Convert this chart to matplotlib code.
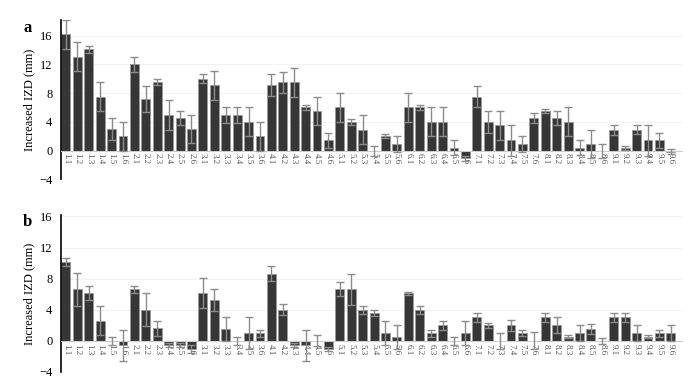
import numpy as np
import matplotlib
matplotlib.use("Agg")
import matplotlib.pyplot as plt

labels = [f"{g}.{k}" for g in range(1, 10) for k in range(1, 7)]

izd_a = [16.2, 13.1, 14.1, 7.5, 3.0, 2.0,
         12.0, 7.2, 9.5, 4.9, 4.5, 3.0,
         10.0, 9.1, 4.9, 4.9, 4.0, 2.0,
         9.1, 9.5, 9.5, 6.0, 5.5, 1.4,
         6.0, 4.0, 2.9, -0.1, 2.0, 0.9,
         6.0, 6.0, 4.0, 4.0, 0.4, -1.1,
         7.5, 4.0, 3.5, 1.4, 0.9, 4.5,
         5.5, 4.5, 4.0, 0.4, 0.9, -0.1,
         2.9, 0.4, 2.9, 1.4, 1.4, -0.2]
err_a = [2.0, 2.0, 0.5, 2.0, 1.5, 2.0,
         1.1, 1.8, 0.4, 2.1, 1.0, 1.9,
         0.6, 2.0, 1.1, 1.1, 2.0, 2.0,
         1.5, 1.5, 2.0, 0.4, 2.0, 1.0,
         2.0, 0.4, 2.0, 0.7, 0.3, 1.1,
         2.0, 0.4, 2.0, 2.0, 1.0, 0.3,
         1.5, 1.5, 2.0, 2.1, 1.1, 0.7,
         0.3, 1.0, 2.0, 1.0, 2.0, 1.0,
         0.7, 0.3, 0.6, 2.1, 1.0, 0.35]

izd_b = [10.1, 6.6, 6.15, 2.6, -0.05, -0.55,
         6.6, 4.0, 1.6, -0.55, -0.55, -1.05,
         6.15, 5.2, 1.5, -0.05, 1.0, 1.0,
         8.65, 4.0, -0.55, -0.55, 0.0, -1.05,
         6.6, 6.6, 4.0, 3.6, 1.0, 0.5,
         6.1, 4.0, 1.0, 2.0, 0.0, 1.0,
         3.0, 2.0, 0.0, 2.0, 1.0, 0.0,
         3.0, 2.0, 0.5, 1.0, 1.5, 0.0,
         3.0, 3.0, 1.0, 0.5, 1.0, 1.0]
err_b = [0.5, 2.1, 0.9, 1.9, 0.5, 2.0,
         0.5, 2.1, 1.0, 0.3, 0.3, 0.5,
         1.9, 1.4, 1.5, 0.5, 2.0, 0.45,
         1.0, 0.7, 0.3, 2.0, 0.7, 0.3,
         0.9, 2.0, 0.5, 0.4, 1.5, 1.5,
         0.15, 0.5, 0.45, 0.6, 0.5, 1.6,
         0.55, 0.3, 1.05, 0.7, 0.35, 1.1,
         0.55, 1.0, 0.2, 1.0, 0.65, 0.35,
         0.55, 0.55, 1.0, 0.2, 0.45, 1.0]

plt.rcParams['font.family'] = ['Liberation Serif', 'DejaVu Serif']


def draw_panel(ax, vals, errs, ylim, letter, letter_y):
    x = np.arange(len(labels))
    # move the x axis up to zero first (this resets the ticks)
    ax.spines['bottom'].set_position(('data', 0))
    ax.spines['bottom'].set_color('#cccccc')
    ax.spines['top'].set_visible(False)
    ax.spines['right'].set_visible(False)
    ax.spines['left'].set_linewidth(1.2)

    ax.bar(x, vals, width=0.78, color='#363636', edgecolor='#9a9a9a',
           linewidth=0.6, zorder=2)
    ax.errorbar(x, vals, yerr=errs, fmt='none', ecolor='#8c8c8c',
                elinewidth=1.0, capsize=2.6, capthick=1.0, zorder=3)
    ax.set_xlim(-0.45, 54.0)
    ax.set_ylim(*ylim)
    ax.set_yticks([-4, 0, 4, 8, 12, 16])
    ax.set_xticks(x)
    ax.set_xticklabels(labels, rotation=270, fontsize=6.5, color='#555555')
    ax.tick_params(axis='x', length=0, pad=2)
    ax.tick_params(axis='y', length=0, labelsize=9, pad=6)
    ax.grid(axis='y', color='#f0f0f0', linewidth=0.6, zorder=0)
    ax.set_axisbelow(True)
    ax.set_ylabel("Increased IZD (mm)", fontsize=9, labelpad=3)
    ax.text(-0.053, letter_y, letter, transform=ax.transAxes, fontsize=12,
            fontweight='bold', ha='center', va='center')


fig = plt.figure(figsize=(6.99, 3.83), dpi=100)
ax_a = fig.add_axes([0.087, 0.532, 0.889, 0.416])
ax_b = fig.add_axes([0.087, 0.029, 0.889, 0.410])

draw_panel(ax_a, izd_a, err_a, (-4, 18.2), 'a', 0.95)
draw_panel(ax_b, izd_b, err_b, (-4, 16.2), 'b', 0.955)

fig.savefig("out.png", dpi=100)
